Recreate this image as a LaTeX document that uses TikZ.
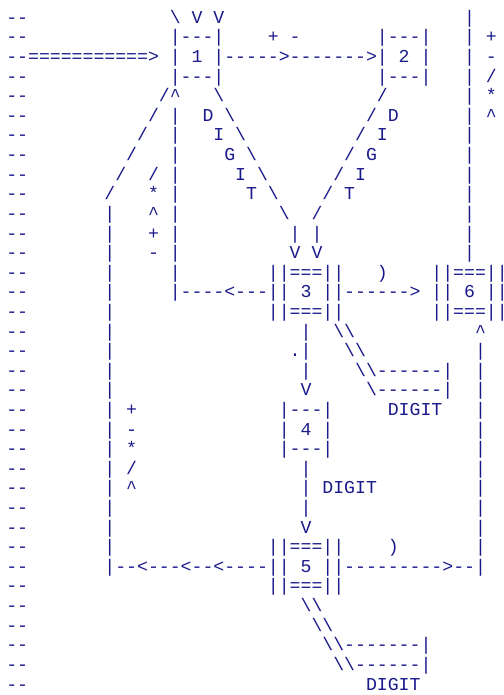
\documentclass[tikz,border=0pt]{standalone}
\usepackage{fontspec}
\newfontfamily\ascfont{Liberation Mono}[Ligatures=TeXOff]
\definecolor{asciiblue}{RGB}{26,26,139}
\newcommand\bs{\textbackslash}
\newcommand\ca{\textasciicircum}
\newcommand\Rn[3]{\node[ch] (r#1c#2) at ({6.3pt+#2*10.9pt},{-23.3pt-(#1-1)*19.61pt}) {#3};}
\begin{document}
\begin{tikzpicture}[ch/.style={anchor=base west,inner sep=0pt,outer sep=0pt,text=asciiblue,font={\ascfont\fontsize{18.17pt}{19.6pt}\selectfont}}]
\useasboundingbox[fill=white] (0pt,0pt) rectangle (503pt,-695pt);
\Rn{1}{0}{--}\Rn{1}{15}{\bs{} V V}\Rn{1}{42}{|}
\Rn{2}{0}{--}\Rn{2}{15}{|---|}\Rn{2}{24}{+ -}\Rn{2}{34}{|---|}\Rn{2}{42}{| +}
\Rn{3}{0}{--===========>}\Rn{3}{15}{| 1 |----->------->| 2 |}\Rn{3}{42}{| -}
\Rn{4}{0}{--}\Rn{4}{15}{|---|}\Rn{4}{34}{|---|}\Rn{4}{42}{| /}
\Rn{5}{0}{--}\Rn{5}{14}{/\ca}\Rn{5}{19}{\bs}\Rn{5}{34}{/}\Rn{5}{42}{| *}
\Rn{6}{0}{--}\Rn{6}{13}{/}\Rn{6}{15}{|}\Rn{6}{18}{D}\Rn{6}{20}{\bs}\Rn{6}{33}{/}\Rn{6}{35}{D}\Rn{6}{42}{| \ca}
\Rn{7}{0}{--}\Rn{7}{12}{/}\Rn{7}{15}{|}\Rn{7}{19}{I}\Rn{7}{21}{\bs}\Rn{7}{32}{/}\Rn{7}{34}{I}\Rn{7}{42}{|}
\Rn{8}{0}{--}\Rn{8}{11}{/}\Rn{8}{15}{|}\Rn{8}{20}{G}\Rn{8}{22}{\bs}\Rn{8}{31}{/}\Rn{8}{33}{G}\Rn{8}{42}{|}
\Rn{9}{0}{--}\Rn{9}{10}{/}\Rn{9}{13}{/}\Rn{9}{15}{|}\Rn{9}{21}{I}\Rn{9}{23}{\bs}\Rn{9}{30}{/}\Rn{9}{32}{I}\Rn{9}{42}{|}
\Rn{10}{0}{--}\Rn{10}{9}{/}\Rn{10}{13}{*}\Rn{10}{15}{|}\Rn{10}{22}{T}\Rn{10}{24}{\bs}\Rn{10}{29}{/}\Rn{10}{31}{T}\Rn{10}{42}{|}
\Rn{11}{0}{--}\Rn{11}{9}{|}\Rn{11}{13}{\ca}\Rn{11}{15}{|}\Rn{11}{25}{\bs}\Rn{11}{28}{/}\Rn{11}{42}{|}
\Rn{12}{0}{--}\Rn{12}{9}{|}\Rn{12}{13}{+}\Rn{12}{15}{|}\Rn{12}{26}{|}\Rn{12}{28}{|}\Rn{12}{42}{|}
\Rn{13}{0}{--}\Rn{13}{9}{|}\Rn{13}{13}{-}\Rn{13}{15}{|}\Rn{13}{26}{V}\Rn{13}{28}{V}\Rn{13}{42}{|}
\Rn{14}{0}{--}\Rn{14}{9}{|}\Rn{14}{15}{|}\Rn{14}{24}{||===||}\Rn{14}{34}{)}\Rn{14}{39}{||===||}
\Rn{15}{0}{--}\Rn{15}{9}{|}\Rn{15}{15}{|----<---|| 3 ||------>}\Rn{15}{39}{|| 6 ||}
\Rn{16}{0}{--}\Rn{16}{9}{|}\Rn{16}{24}{||===||}\Rn{16}{39}{||===||}
\Rn{17}{0}{--}\Rn{17}{9}{|}\Rn{17}{27}{|}\Rn{17}{30}{\bs\bs}\Rn{17}{43}{\ca}
\Rn{18}{0}{--}\Rn{18}{9}{|}\Rn{18}{26}{.|}\Rn{18}{31}{\bs\bs}\Rn{18}{43}{|}
\Rn{19}{0}{--}\Rn{19}{9}{|}\Rn{19}{27}{|}\Rn{19}{32}{\bs\bs------|}\Rn{19}{43}{|}
\Rn{20}{0}{--}\Rn{20}{9}{|}\Rn{20}{27}{V}\Rn{20}{33}{\bs------|}\Rn{20}{43}{|}
\Rn{21}{0}{--}\Rn{21}{9}{|}\Rn{21}{11}{+}\Rn{21}{25}{|---|}\Rn{21}{35}{DIGIT}\Rn{21}{43}{|}
\Rn{22}{0}{--}\Rn{22}{9}{|}\Rn{22}{11}{-}\Rn{22}{25}{| 4 |}\Rn{22}{43}{|}
\Rn{23}{0}{--}\Rn{23}{9}{|}\Rn{23}{11}{*}\Rn{23}{25}{|---|}\Rn{23}{43}{|}
\Rn{24}{0}{--}\Rn{24}{9}{|}\Rn{24}{11}{/}\Rn{24}{27}{|}\Rn{24}{43}{|}
\Rn{25}{0}{--}\Rn{25}{9}{|}\Rn{25}{11}{\ca}\Rn{25}{27}{|}\Rn{25}{29}{DIGIT}\Rn{25}{43}{|}
\Rn{26}{0}{--}\Rn{26}{9}{|}\Rn{26}{27}{|}\Rn{26}{43}{|}
\Rn{27}{0}{--}\Rn{27}{9}{|}\Rn{27}{27}{V}\Rn{27}{43}{|}
\Rn{28}{0}{--}\Rn{28}{9}{|}\Rn{28}{24}{||===||}\Rn{28}{35}{)}\Rn{28}{43}{|}
\Rn{29}{0}{--}\Rn{29}{9}{|--<---<--<----|| 5 ||--------->--|}
\Rn{30}{0}{--}\Rn{30}{24}{||===||}
\Rn{31}{0}{--}\Rn{31}{27}{\bs\bs}
\Rn{32}{0}{--}\Rn{32}{28}{\bs\bs}
\Rn{33}{0}{--}\Rn{33}{29}{\bs\bs-------|}
\Rn{34}{0}{--}\Rn{34}{30}{\bs\bs------|}
\Rn{35}{0}{--}\Rn{35}{33}{DIGIT}
\end{tikzpicture}
\end{document}
